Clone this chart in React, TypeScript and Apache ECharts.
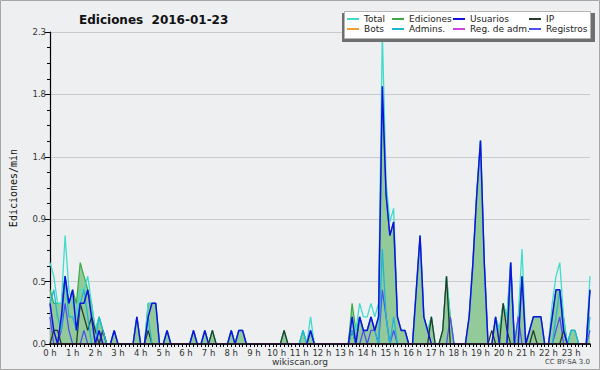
import React, { useEffect, useRef } from 'react';
import * as echarts from 'echarts';

// ---- data (values in edits per minute, one point per 10 minutes) ----
const hourLabels = [
  '0 h', '1 h', '2 h', '3 h', '4 h', '5 h', '6 h', '7 h', '8 h', '9 h', '10 h', '11 h',
  '12 h', '13 h', '14 h', '15 h', '16 h', '17 h', '18 h', '19 h', '20 h', '21 h', '22 h', '23 h',
];
const slots: string[] = [];
for (let h = 0; h < 24; h++) for (let m = 0; m < 60; m += 10) slots.push(`${String(h).padStart(2, '0')}:${String(m).padStart(2, '0')}`);

const yTickLabelDigits = 1;

const total = [
  .6, .5, .3, .3, .8, .4,   // 0h
  .3, .2, .4, .4, .5, .3,   // 1h
  .1, .2, .1, 0, 0, .1,     // 2h
  0, 0, 0, 0, 0, .2,        // 3h
  0, 0, .3, .3, .3, 0,      // 4h
  0, .1, 0, 0, 0, 0,        // 5h
  0, 0, .1, 0, 0, .1,       // 6h
  0, .1, 0, 0, 0, 0,        // 7h
  .1, 0, .1, .1, 0, 0,      // 8h
  0, 0, 0, 0, 0, 0,         // 9h
  0, 0, .1, 0, 0, 0,        // 10h
  0, .1, 0, .2, 0, 0,       // 11h
  0, 0, 0, 0, 0, 0,         // 12h
  0, 0, .2, .1, .3, .2,     // 13h
  .2, .3, .2, .3, 2.3, 1.2, // 14h
  .9, 1.0, .2, .1, .1, 0,   // 15h
  0, .4, .8, .2, .1, .2,    // 16h
  0, 0, .1, .5, .2, 0,      // 17h
  0, 0, 0, .2, .6, 1.1,     // 18h
  1.5, .6, 0, 0, .2, .1,    // 19h
  .3, .2, .6, 0, .2, .7,    // 20h
  0, .1, .2, .2, .2, 0,     // 21h
  0, .3, .5, .6, .2, 0,     // 22h
  .1, .1, 0, 0, 0, .5,      // 23h
];
const ediciones = [
  .4, .3, .3, .3, .5, .3,
  .4, .3, .6, .5, .4, .3,
  .1, .2, .1, 0, 0, .1,
  0, 0, 0, 0, 0, .2,
  0, 0, .3, .3, .3, 0,
  0, .1, 0, 0, 0, 0,
  0, 0, .1, 0, 0, .1,
  0, .1, 0, 0, 0, 0,
  .1, 0, .1, .1, 0, 0,
  0, 0, 0, 0, 0, 0,
  0, 0, .1, 0, 0, 0,
  0, .1, 0, .1, 0, 0,
  0, 0, 0, 0, 0, 0,
  0, 0, .3, .1, .2, .1,
  .1, .2, .1, .2, 1.9, 1.1,
  .8, .9, .2, .1, .1, 0,
  0, .4, .8, .2, .1, .2,
  0, 0, .1, .5, .2, 0,
  0, 0, 0, .2, .6, 1.1,
  1.5, .6, 0, 0, .2, .1,
  .3, .2, .6, 0, .2, .5,
  0, .1, .2, .2, .2, 0,
  0, .2, .4, .4, .2, 0,
  .1, .1, 0, 0, 0, .4,
];
const usuarios = [
  .3, .1, 0, .2, .5, .3,
  .4, .1, .3, .3, .4, .2,
  0, .1, 0, 0, 0, .1,
  0, 0, 0, 0, 0, .2,
  0, 0, .2, .3, .3, 0,
  0, .1, 0, 0, 0, 0,
  0, 0, .1, 0, 0, .1,
  0, 0, 0, 0, 0, 0,
  .1, 0, .1, .1, 0, 0,
  0, 0, 0, 0, 0, 0,
  0, 0, 0, 0, 0, 0,
  0, 0, 0, .1, 0, 0,
  0, 0, 0, 0, 0, 0,
  0, 0, .2, 0, .2, .1,
  .1, .2, .1, .2, 1.9, 1.1,
  .8, .9, .2, .1, .1, 0,
  0, .4, .8, .2, .1, 0,
  0, 0, 0, 0, 0, 0,
  0, 0, 0, .2, .6, 1.1,
  1.5, .6, 0, 0, .2, 0,
  0, 0, .6, 0, 0, .5,
  0, .1, .2, .2, .2, 0,
  0, .2, .4, .4, .1, 0,
  0, 0, 0, 0, 0, .4,
];
const ip = [
  0, .1, .1, 0, 0, 0,
  0, 0, .3, .2, .1, .2,
  .1, 0, .1, 0, 0, 0,
  0, 0, 0, 0, 0, 0,
  0, 0, .1, 0, 0, 0,
  0, 0, 0, 0, 0, 0,
  0, 0, 0, 0, 0, 0,
  0, .1, 0, 0, 0, 0,
  0, 0, 0, 0, 0, 0,
  0, 0, 0, 0, 0, 0,
  0, 0, .1, 0, 0, 0,
  0, 0, 0, 0, 0, 0,
  0, 0, 0, 0, 0, 0,
  0, 0, .1, 0, 0, 0,
  0, 0, 0, 0, 0, 0,
  0, 0, 0, 0, 0, 0,
  0, 0, 0, 0, 0, .2,
  0, 0, .1, .5, 0, 0,
  0, 0, 0, 0, 0, 0,
  0, 0, 0, .1, 0, 0,
  .3, .1, 0, 0, 0, 0,
  0, 0, .1, 0, 0, 0,
  0, 0, 0, 0, .1, 0,
  0, 0, 0, 0, 0, 0,
];
const bots = new Array(144).fill(0);
const admins = [
  .3, .4, .2, .1, .5, .2,
  .2, .1, .3, .4, .2, 0,
  0, .2, .1, 0, 0, 0,
  0, 0, 0, 0, 0, 0,
  0, 0, .2, 0, 0, 0,
  0, 0, 0, 0, 0, 0,
  0, 0, 0, 0, 0, 0,
  0, 0, 0, 0, 0, 0,
  0, 0, 0, 0, 0, 0,
  0, 0, 0, 0, 0, 0,
  0, 0, 0, 0, 0, 0,
  0, .1, 0, .1, 0, 0,
  0, 0, 0, 0, 0, 0,
  0, 0, .1, 0, .2, .1,
  .1, .2, .1, 0, .7, .2,
  0, .2, 0, 0, 0, 0,
  0, 0, 0, 0, 0, 0,
  0, 0, 0, 0, 0, 0,
  0, 0, 0, 0, 0, 0,
  0, 0, 0, 0, 0, 0,
  0, 0, .6, 0, 0, 0,
  0, 0, 0, 0, 0, 0,
  0, 0, .2, .4, .1, 0,
  .1, .1, 0, 0, 0, .2,
];
const regAdm = new Array(144).fill(0);
const registros = [
  .2, 0, 0, .1, .3, .1,
  0, 0, 0, .1, 0, 0,
  0, 0, .1, 0, 0, 0,
  0, 0, 0, 0, 0, 0,
  0, 0, 0, 0, 0, 0,
  0, 0, 0, 0, 0, 0,
  0, 0, 0, 0, 0, 0,
  0, 0, 0, 0, 0, 0,
  0, 0, 0, 0, 0, 0,
  0, 0, 0, 0, 0, 0,
  0, 0, 0, 0, 0, 0,
  0, 0, 0, 0, 0, 0,
  0, 0, 0, 0, 0, 0,
  0, 0, 0, 0, 0, .1,
  0, .1, .1, 0, .4, .2,
  0, .1, 0, 0, 0, 0,
  0, 0, 0, 0, 0, 0,
  0, 0, 0, 0, .2, 0,
  0, 0, 0, 0, 0, 0,
  0, 0, 0, 0, 0, 0,
  0, 0, 0, 0, .2, 0,
  0, 0, 0, 0, 0, 0,
  0, 0, .1, .2, 0, 0,
  0, 0, 0, 0, 0, .1,
];

const FONT = 'DejaVu Sans';

export default function App() {
  const ref = useRef<HTMLDivElement>(null);
  useEffect(() => {
    document.body.style.margin = '0';
    const chart = echarts.init(ref.current!, null, { renderer: 'svg' });
    const line = (name: string, data: number[], color: string, width = 1.3) => ({
      name, type: 'line', data, symbol: 'none', color,
      lineStyle: { color, width }, emphasis: { disabled: true },
    });
    const legendBase = {
      orient: 'vertical', top: 14, itemWidth: 12, itemHeight: 2, itemGap: 0, icon: 'rect',
      padding: 0, selectedMode: false, z: 10,
      textStyle: { fontSize: 9, lineHeight: 10, fontFamily: FONT, color: '#222' },
    };
    chart.setOption({
      animation: false,
      backgroundColor: '#eeeff1',
      title: {
        text: 'Ediciones  2016-01-23', left: 74, top: 9,
        textStyle: { fontSize: 12, fontWeight: 'bold', fontFamily: FONT, color: '#111' },
      },
      legend: [
        { ...legendBase, left: 347, data: ['Total', 'Bots'] },
        { ...legendBase, left: 392, data: ['Ediciones', 'Admins.'] },
        { ...legendBase, left: 453, data: ['Usuarios', 'Reg. de adm.'] },
        { ...legendBase, left: 529, data: ['IP', 'Registros'] },
      ],
      grid: { left: 46, right: 10, top: 32, bottom: 26 },
      xAxis: {
        type: 'category', data: slots, boundaryGap: false, z: 10,
        axisLine: { lineStyle: { color: '#000', width: 1.5 } },
        axisTick: { show: true, interval: 0, length: 3, lineStyle: { color: '#000' } },
        axisLabel: {
          interval: (i: number) => i % 6 === 0,
          formatter: (_v: string, i: number) => hourLabels[i / 6] ?? '',
          fontSize: 8.5, fontFamily: FONT, color: '#333', margin: 4,
        },
        splitLine: { show: false },
      },
      yAxis: {
        type: 'value', min: 0, max: 2.3, interval: 0.46,
        name: 'Ediciones/min', nameLocation: 'middle', nameGap: 32,
        nameTextStyle: { fontSize: 10, fontFamily: 'DejaVu Sans Mono', color: '#111' },
        axisLine: { show: true, lineStyle: { color: '#000', width: 1.2 } },
        axisTick: { show: true, length: 5, lineStyle: { color: '#000' } },
        minorTick: { show: true, splitNumber: 4, length: 3, lineStyle: { color: '#000' } },
        axisLabel: {
          formatter: (v: number) => v.toFixed(yTickLabelDigits),
          fontSize: 8.5, fontFamily: FONT, color: '#333', margin: 4,
        },
        splitLine: { show: true, lineStyle: { color: '#c9cacc', width: 1 } },
      },
      series: [
        {
          ...line('Ediciones', ediciones, '#3aaa45', 1.2),
          areaStyle: { color: '#8cc795', opacity: 0.95 },
        },
        line('Total', total, '#3fdccc', 1.3),
        line('Registros', registros, '#5050ee', 1.3),
        line('IP', ip, '#263a2a', 1.3),
        line('Admins.', admins, '#1fb6d6', 1.3),
        line('Usuarios', usuarios, '#1212e0', 1.5),
        line('Bots', bots, '#f0a030', 1),
        line('Reg. de adm.', regAdm, '#cc44dd', 1),
      ],
      graphic: [
        { type: 'rect', z: 5, silent: true, shape: { x: 342, y: 13, width: 253, height: 29 }, style: { fill: '#6f6f6f' } },
        { type: 'rect', z: 6, silent: true, shape: { x: 344.5, y: 11.5, width: 246, height: 27 }, style: { fill: '#ffffff', stroke: '#b4b4b4', lineWidth: 1 } },
        { type: 'text', z: 6, silent: true, x: 300, y: 362, style: { text: 'wikiscan.org', fontSize: 9, fontFamily: FONT, fill: '#333', align: 'center', verticalAlign: 'middle' } },
        { type: 'text', z: 6, silent: true, x: 590, y: 362, style: { text: 'CC BY-SA 3.0', fontSize: 7, fontFamily: FONT, fill: '#444', align: 'right', verticalAlign: 'middle' } },
        { type: 'rect', z: 20, silent: true, shape: { x: 0.5, y: 0.5, width: 599, height: 369 }, style: { fill: 'none', stroke: '#a6a6a6', lineWidth: 1 } },
      ],
    } as any);
    return () => chart.dispose();
  }, []);
  return <div ref={ref} style={{ width: 600, height: 370 }} />;
}
